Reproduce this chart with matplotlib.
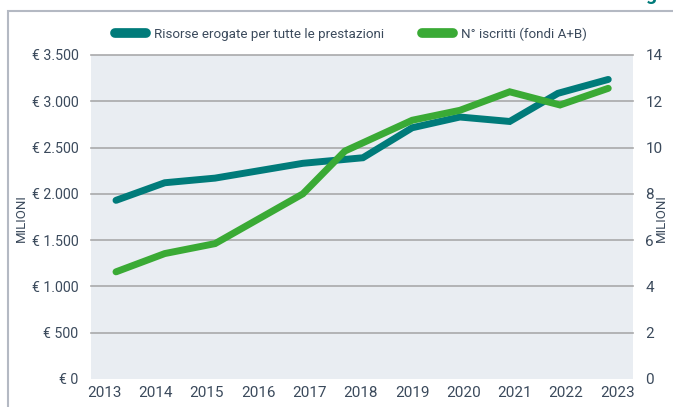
import matplotlib
matplotlib.use("Agg")
import matplotlib.pyplot as plt
from matplotlib.lines import Line2D
from matplotlib.patches import Rectangle

# data
years = [2013, 2014, 2015, 2016, 2017, 2018, 2019, 2020, 2021, 2022, 2023]
risorse_x = [2013.23, 2014.18, 2015.16, 2016.87, 2018.04, 2019.00, 2019.93, 2020.90, 2021.84, 2022.82]
risorse = [1930, 2120, 2170, 2330, 2390, 2714, 2830, 2782, 3086, 3236]  # milioni di euro
iscritti_x = [2013.23, 2014.18, 2015.16, 2016.87, 2017.69, 2019.00, 2019.93, 2020.90, 2021.88, 2022.82]
iscritti = [4.63, 5.42, 5.85, 8.0, 9.85, 11.18, 11.61, 12.41, 11.84, 12.56]  # milioni
left_ticks = [0, 500, 1000, 1500, 2000, 2500, 3000, 3500]
left_labels = ["€ 0", "€ 500", "€ 1.000", "€ 1.500", "€ 2.000", "€ 2.500", "€ 3.000", "€ 3.500"]
right_ticks = [0, 2, 4, 6, 8, 10, 12, 14]

TEAL = "#007b7a"
GREEN = "#3aaa35"
TXT = "#3b4a5c"
BG = "#e9edf2"
GRID = "#a9a9ab"

plt.rcParams["font.family"] = ["Roboto", "DejaVu Sans"]

fig = plt.figure(figsize=(6.73, 4.07), dpi=100)
ax = fig.add_axes([91 / 673, 1 - 379 / 407, 542 / 673, 324 / 407])
ax.set_facecolor(BG)
for s in ax.spines.values():
    s.set_visible(False)

ax.set_xlim(2012.743, 2023.302)
ax.set_ylim(0, 3500)
for y in left_ticks[1:]:
    ax.axhline(y, color=GRID, lw=1.2, zorder=1, clip_on=False)

ax.plot(risorse_x, risorse, color=TEAL, lw=5, solid_capstyle="round",
        solid_joinstyle="miter", zorder=3)

ax2 = ax.twinx()
ax2.set_ylim(0, 14)
ax2.plot(iscritti_x, iscritti, color=GREEN, lw=5, solid_capstyle="round",
         solid_joinstyle="miter", zorder=4)
for s in ax2.spines.values():
    s.set_visible(False)

ax.set_xticks(years)
ax.set_xticklabels([str(y) for y in years])
ax.set_yticks(left_ticks)
ax.set_yticklabels(left_labels)
ax2.set_yticks(right_ticks)
ax.tick_params(axis="y", length=0, labelsize=10.2, labelcolor=TXT, pad=9)
ax.tick_params(axis="x", length=0, labelsize=11, labelcolor=TXT, pad=5)
ax2.tick_params(axis="y", length=0, labelsize=11, labelcolor=TXT, pad=9)

fig.text(21 / 673, 1 - 218 / 407, "MILIONI", rotation=90, ha="center", va="center",
         fontsize=9.5, color=TXT)
fig.text(661 / 673, 1 - 218 / 407, "MILIONI", rotation=90, ha="center", va="center",
         fontsize=9.5, color=TXT)

handles = [Line2D([], [], color=TEAL, lw=7, solid_capstyle="round"),
           Line2D([], [], color=GREEN, lw=7, solid_capstyle="round")]
fig.legend(handles, ["Risorse erogate per tutte le prestazioni", "N° iscritti (fondi A+B)"],
           loc="center", bbox_to_anchor=(351 / 673, 1 - 34 / 407), ncol=2, frameon=False,
           fontsize=9.6, labelcolor=TXT, handlelength=2.3, handletextpad=0.6,
           columnspacing=2.9)

# outer frame and clipped title fragment
fig.add_artist(Rectangle((8 / 673, -0.1), 1.2, 1.1 - 11 / 407, transform=fig.transFigure,
                         fill=False, edgecolor="#b4b9c3", lw=1.5))
fig.text(651 / 673, 1.0, "g", ha="center", va="baseline", fontsize=14, color=TEAL,
         fontweight="bold")

fig.savefig("out.png", dpi=100)
